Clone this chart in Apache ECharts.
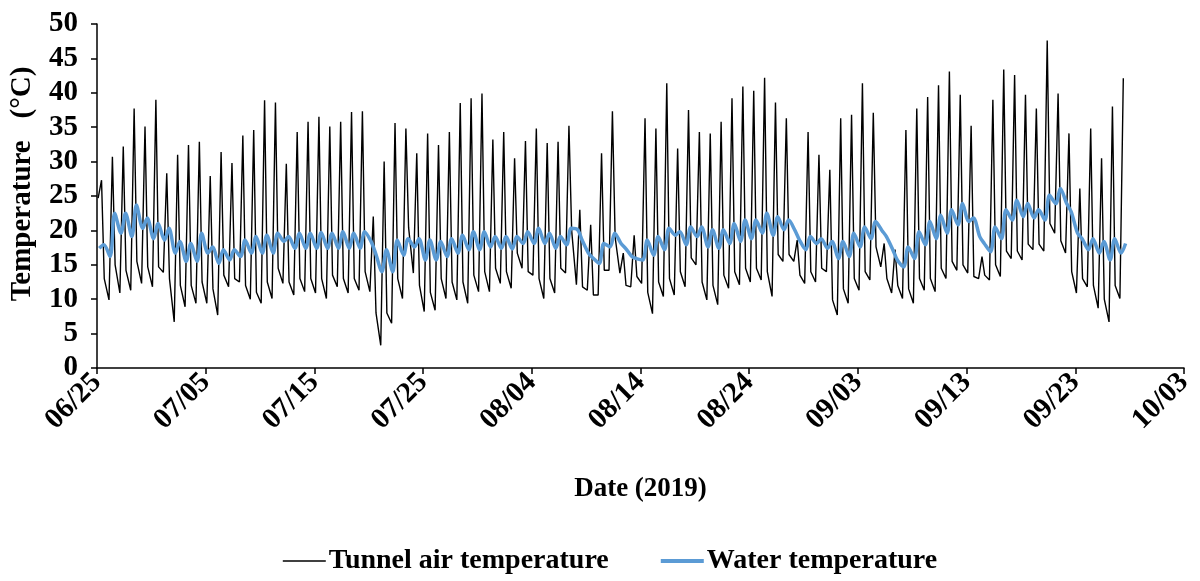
<!DOCTYPE html>
<html>
<head>
<meta charset="utf-8">
<script src="https://cdn.jsdelivr.net/npm/echarts@6/dist/echarts.min.js"></script>
<style>
  html, body { margin: 0; padding: 0; background: #fff; }
  #chart { width: 1200px; height: 581px; }
</style>
</head>
<body>
<div id="chart"></div>
<script>
// Daily readings, one entry per day starting 2019-06-25.
const startDate = Date.UTC(2019, 5, 25);

// Tunnel air temperature (°C): early-morning low, midday peak, late-afternoon value
const airLow = [
  24.7, 9.9, 10.9, 11.3, 12.3, 11.8, 13.9, 6.7, 8.9, 9.4,
  9.4, 7.7, 11.8, 12.5, 10.0, 9.4, 10.1, 12.3, 10.6, 11.1,
  10.9, 10.1, 11.8, 10.9, 11.3, 11.1, 3.3, 6.5, 10.1, 13.8,
  8.2, 8.4, 10.1, 9.9, 9.4, 11.1, 11.1, 12.3, 11.6, 14.5,
  13.5, 10.1, 10.9, 13.8, 12.1, 11.3, 10.6, 14.2, 13.8, 11.8,
  12.3, 7.9, 10.4, 10.6, 11.8, 15.0, 9.9, 9.2, 11.6, 12.1,
  12.5, 12.8, 10.4, 15.5, 15.5, 12.3, 12.5, 14.0, 7.7, 9.4,
  11.3, 12.8, 14.7, 10.9, 10.1, 9.4, 11.3, 11.1, 13.0, 14.2,
  13.8, 13.0, 12.8, 13.3, 15.9, 15.7, 17.2, 17.0, 19.6, 16.7,
  10.9, 11.8, 8.7, 6.7, 10.1
];
const airHigh = [
  27.3, 30.7, 32.2, 37.7, 35.1, 39.0, 28.3, 31.0, 32.4, 32.9,
  27.9, 31.4, 29.8, 33.8, 34.6, 38.9, 38.6, 29.7, 34.3, 35.8,
  36.5, 35.1, 35.8, 37.2, 37.3, 22.0, 30.0, 35.6, 34.8, 31.2,
  34.1, 32.4, 34.3, 38.5, 39.2, 39.9, 33.2, 34.3, 30.5, 33.0,
  34.8, 32.7, 32.9, 35.2, 23.0, 20.8, 31.2, 37.3, 16.7, 19.3,
  36.3, 34.8, 41.4, 31.9, 37.5, 34.3, 34.1, 35.8, 39.2, 40.9,
  40.3, 42.2, 38.6, 36.3, 18.6, 34.3, 31.0, 28.8, 36.3, 36.8,
  41.4, 37.1, 18.1, 17.2, 34.6, 37.7, 39.4, 41.1, 43.1, 39.7,
  35.2, 16.2, 39.0, 43.4, 42.6, 39.7, 37.7, 47.6, 39.9, 34.1,
  26.1, 34.8, 30.5, 38.0, 42.1
];
const airDusk = [
  13.0, 15.0, 14.2, 15.5, 14.7, 14.7, 13.0, 12.0, 12.0, 12.5,
  11.5, 13.5, 13.0, 12.0, 11.0, 12.5, 14.5, 12.5, 13.0, 13.0,
  13.0, 13.5, 13.0, 13.0, 14.0, 8.0, 8.0, 13.0, 20.4, 12.0,
  11.0, 13.0, 12.5, 12.5, 13.5, 14.0, 14.5, 14.0, 16.7, 14.0,
  13.0, 13.0, 14.5, 20.0, 11.8, 10.6, 14.2, 19.0, 12.0, 13.3,
  11.0, 12.5, 13.0, 14.0, 16.0, 12.5, 12.0, 13.5, 14.0, 14.5,
  14.5, 14.0, 16.5, 16.5, 13.5, 14.0, 14.5, 9.9, 11.5, 13.0,
  14.0, 17.6, 13.0, 12.0, 11.5, 13.0, 13.0, 14.5, 15.5, 15.0,
  13.3, 13.5, 15.0, 17.0, 17.0, 18.0, 18.0, 21.0, 18.5, 14.0,
  13.0, 12.0, 10.0, 12.0, null
];

// Water temperature (°C): morning low and afternoon high
const waterLow = [
  17.4, 16.2, 19.6, 19.1, 20.3, 18.8, 18.6, 16.7, 15.5, 15.5,
  16.7, 15.2, 15.7, 16.2, 16.7, 16.7, 16.7, 18.4, 17.4, 17.4,
  17.4, 17.4, 17.4, 17.4, 17.4, 18.4, 14.0, 14.0, 16.4, 17.6,
  15.7, 15.7, 16.2, 16.7, 17.2, 17.2, 17.6, 17.4, 17.3, 18.1,
  18.1, 18.1, 17.4, 17.9, 20.1, 16.7, 15.2, 17.6, 18.1, 16.2,
  15.7, 16.4, 17.2, 19.3, 17.9, 19.1, 17.6, 17.4, 18.1, 18.4,
  18.8, 19.6, 19.3, 20.1, 20.0, 17.2, 18.1, 17.4, 15.9, 16.2,
  17.6, 18.8, 20.0, 17.2, 14.7, 15.9, 17.9, 18.8, 19.6, 20.8,
  21.3, 19.1, 16.9, 18.8, 21.5, 22.0, 21.8, 21.5, 23.9, 23.9,
  19.6, 17.2, 16.7, 15.7, 16.7
];
const waterHigh = [
  17.9, 22.5, 22.5, 23.7, 21.8, 21.0, 20.3, 18.4, 18.1, 19.6,
  17.6, 17.2, 17.2, 18.6, 19.1, 19.3, 19.6, 19.1, 19.6, 19.6,
  19.7, 19.6, 19.8, 19.6, 19.8, 16.7, 17.2, 18.6, 18.8, 18.8,
  18.6, 18.4, 18.8, 19.3, 19.8, 19.8, 19.1, 19.1, 19.1, 19.8,
  20.3, 19.6, 19.1, 20.3, 18.6, 16.0, 18.1, 19.6, 17.4, 15.9,
  18.6, 19.1, 20.3, 19.8, 20.5, 20.5, 20.1, 20.1, 21.0, 21.5,
  21.5, 22.5, 22.0, 21.5, 18.6, 19.1, 18.8, 18.4, 18.4, 19.6,
  20.5, 21.3, 19.1, 15.7, 17.6, 19.8, 21.3, 22.2, 23.0, 23.9,
  21.8, 18.1, 20.5, 23.0, 24.4, 23.9, 23.0, 25.1, 26.1, 22.7,
  18.8, 18.8, 18.4, 18.8, 18.1
];

// Hour of day at which each reading was taken
const airHours = { low: 2.5, high: 10, dusk: 16 };
const waterHours = { low: 5, high: 15 };

// Axis ticks: every 10 days from 06/25 to 10/03
const dayMin = 0, dayMax = 100, dayStep = 10;
const tempMin = 0, tempMax = 50, tempStep = 5;

const seriesNames = ['Tunnel air temperature', 'Water temperature'];

function buildAir() {
  const out = [];
  for (let d = 0; d < airHigh.length; d++) {
    out.push([d + airHours.low / 24, airLow[d]]);
    out.push([d + airHours.high / 24, airHigh[d]]);
    if (airDusk[d] != null) out.push([d + airHours.dusk / 24, airDusk[d]]);
  }
  return out;
}
function buildWater() {
  const out = [];
  for (let d = 0; d < waterHigh.length; d++) {
    out.push([d + waterHours.low / 24, waterLow[d]]);
    out.push([d + waterHours.high / 24, waterHigh[d]]);
  }
  return out;
}
function dayLabel(v) {
  const dt = new Date(startDate + v * 86400000);
  const mm = String(dt.getUTCMonth() + 1).padStart(2, '0');
  const dd = String(dt.getUTCDate()).padStart(2, '0');
  return mm + '/' + dd;
}

const font = 'Liberation Serif';
const textBold = { fontFamily: font, fontWeight: 'bold', fontSize: 27, color: '#000' };
const tickText = { fontFamily: font, fontWeight: 'bold', fontSize: 29, color: '#000' };

const chart = echarts.init(document.getElementById('chart'), null, { renderer: 'canvas' });
chart.setOption({
  animation: false,
  backgroundColor: '#fff',
  grid: { left: 96, right: 16, top: 24, bottom: 213, containLabel: false },
  legend: {
    left: 282,
    top: 547,
    padding: 0,
    itemWidth: 43,
    itemHeight: 14,
    itemGap: 50,
    textStyle: Object.assign({}, textBold, { fontSize: 28, padding: [0, 0, 0, -2] }),
    itemStyle: { color: 'rgba(0,0,0,0)', borderWidth: 0, opacity: 0 },
    data: [
      { name: seriesNames[0], lineStyle: { width: 1.6 } },
      { name: seriesNames[1], lineStyle: { width: 4 } }
    ]
  },
  xAxis: {
    type: 'value',
    min: dayMin, max: dayMax, interval: dayStep,
    name: 'Date (2019)',
    nameLocation: 'middle',
    nameGap: 108,
    nameTextStyle: textBold,
    axisLine: { lineStyle: { color: '#000', width: 1.5 } },
    axisTick: { inside: false, length: 6, lineStyle: { color: '#000', width: 1.5 } },
    axisLabel: Object.assign({ rotate: 45, margin: 10, formatter: dayLabel }, tickText),
    splitLine: { show: false }
  },
  yAxis: {
    type: 'value',
    min: tempMin, max: tempMax, interval: tempStep,
    name: 'Temperature   (°C)',
    nameLocation: 'middle',
    nameGap: 60,
    nameTextStyle: Object.assign({}, textBold, { fontSize: 29, padding: [0, 0, 0, 24] }),
    axisLine: { show: true, lineStyle: { color: '#000', width: 1.5 } },
    axisTick: { show: true, inside: false, length: 6, lineStyle: { color: '#000', width: 1.5 } },
    axisLabel: Object.assign({ margin: 19 }, tickText),
    splitLine: { show: false }
  },
  series: [
    {
      name: seriesNames[0],
      type: 'line',
      data: buildAir(),
      showSymbol: false,
      symbol: 'none',
      lineStyle: { color: '#000', width: 1.4 },
      itemStyle: { color: '#000' },
      z: 2
    },
    {
      name: seriesNames[1],
      type: 'line',
      data: buildWater(),
      showSymbol: false,
      symbol: 'none',
      smooth: 0.3,
      lineStyle: { color: '#5B9BD5', width: 3.5 },
      itemStyle: { color: '#5B9BD5' },
      z: 3
    }
  ]
});
</script>
</body>
</html>
